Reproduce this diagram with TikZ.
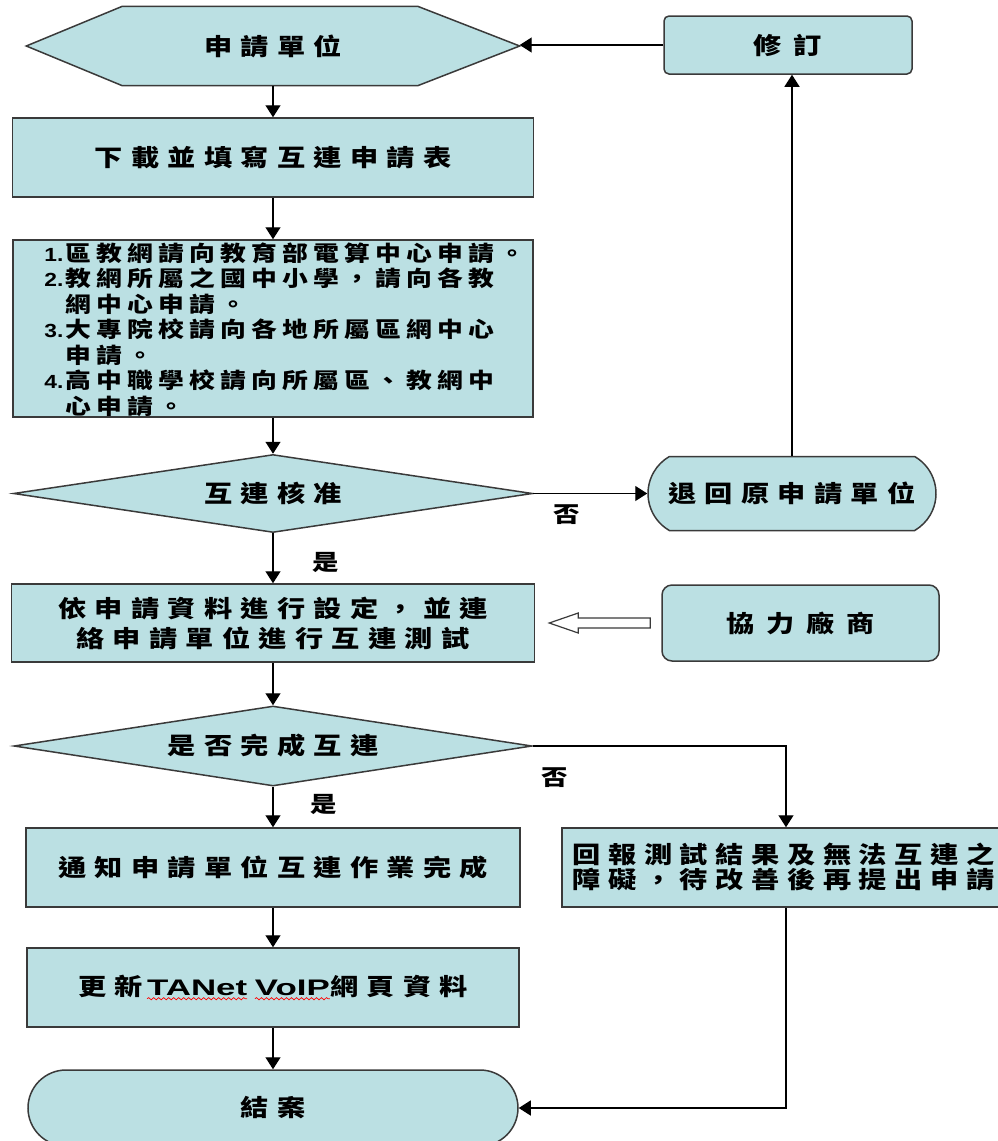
\documentclass[tikz,border=0pt]{standalone}
\usepackage{fontspec}
\usetikzlibrary{shapes.geometric,shapes.misc,arrows.meta,calc,decorations.pathmorphing}
\newfontfamily\cjk{Noto Sans CJK TC}[FakeStretch=1.2]
\newfontfamily\latin{Liberation Sans}[FakeStretch=1.2]
\newfontfamily\latinwide{Liberation Sans}[FakeStretch=1.55]
\XeTeXinterchartokenstate=1
\newlength\cjkgap \setlength\cjkgap{8.3pt}
\newcount\cjkcc
\cjkcc="4E00
\loop\XeTeXcharclass\cjkcc=1 \advance\cjkcc by 1 \ifnum\cjkcc<"A000 \repeat
\XeTeXcharclass"FF0C=1 \XeTeXcharclass"3002=1 \XeTeXcharclass"3001=1
\XeTeXinterchartoks 1 1 = {\hskip\cjkgap\relax}
\newcommand\redwave[1]{\tikz[baseline=(wv.base), x=1pt, y=1pt]{\node[inner sep=0pt, outer sep=0pt, minimum width=0pt,
  minimum height=0pt, draw=none, fill=none, anchor=base,
  font=\latinwide\bfseries\fontsize{22.5}{25}\selectfont] (wv) {#1};
  \draw[red, line width=0.7pt, decorate, decoration={snake, amplitude=1.1pt, segment length=5pt}]
    ([yshift=-3.5pt]wv.base west) -- ([yshift=-3.5pt]wv.base east);}}
\definecolor{boxfill}{HTML}{BBE0E3}
\definecolor{boxline}{HTML}{3A3A3A}
\pgfdeclarelayer{bg}
\pgfsetlayers{bg,main}
\tikzset{
  shp/.style={draw=boxline, fill=boxfill, line width=1.5pt, inner sep=0pt},
  rect/.style={shp, rectangle},
  txt/.style={font=\cjk\bfseries\fontsize{23.5}{25}\selectfont, align=center},
  cjkspace/.code={\setlength\cjkgap{#1}},
  conn/.style={line width=1.3pt, -{Triangle[length=12pt,width=15pt]}},
  lbl/.style={font=\cjk\bfseries\fontsize{22}{24}\selectfont, inner sep=0pt},
}
\begin{document}
\begin{tikzpicture}[x=1pt,y=-1pt]
\useasboundingbox (0,0) rectangle (998,1141);
\clip (0,0) rectangle (998,1141);

% hexagon start
\node[txt, minimum width=493pt, minimum height=79pt, inner sep=0pt] (apply) at (273,46) {申請單位};
\begin{pgfonlayer}{bg}
\draw[shp] (apply.west) -- ([xshift=96pt]apply.north west) -- ([xshift=-102pt]apply.north east)
  -- (apply.east) -- ([xshift=-102pt]apply.south east) -- ([xshift=96pt]apply.south west) -- cycle;
\end{pgfonlayer}

\node[rect, txt, minimum width=521pt, minimum height=79pt] (form) at (273,157.5) {下載並填寫互連申請表};

\node[rect, minimum width=520pt, minimum height=177pt] (list) at (273,328.5) {};
\node[anchor=west, align=left, inner sep=0pt, cjkspace=5.2pt,
      font=\cjk\bfseries\fontsize{21.5}{25.5}\selectfont] (listtxt) at ([xshift=32pt,yshift=-1pt]list.west)
{\makebox[21pt][l]{\latin\bfseries\fontsize{19}{25}\selectfont 1.}區教網請向教育部電算中心申請。\\
 \makebox[21pt][l]{\latin\bfseries\fontsize{19}{25}\selectfont 2.}教網所屬之國中小學，請向各教\\
 \makebox[21pt][l]{}網中心申請。\\
 \makebox[21pt][l]{\latin\bfseries\fontsize{19}{25}\selectfont 3.}大專院校請向各地所屬區網中心\\
 \makebox[21pt][l]{}申請。\\
 \makebox[21pt][l]{\latin\bfseries\fontsize{19}{25}\selectfont 4.}高中職學校請向所屬區、教網中\\
 \makebox[21pt][l]{}心申請。};

\node[shp, diamond, aspect=6.6, txt, minimum width=519pt, minimum height=78pt] (check1) at (273,493.5) {互連核准};

\node[shp, rounded rectangle, rounded rectangle arc length=120, txt,
      minimum width=288pt, minimum height=74pt] (reject) at (792,493.5) {退回原申請單位};

\node[rect, rounded corners=5pt, txt, cjkspace=11.8pt, minimum width=248pt, minimum height=58pt] (revise) at (788,45) {修訂};

\node[rect, txt, font=\cjk\bfseries\fontsize{23.5}{30}\selectfont,
      minimum width=523pt, minimum height=78pt] (config) at (273,623) {依申請資料進行設定，並連\\絡申請單位進行互連測試};

\node[rect, rounded corners=10pt, txt, cjkspace=11.8pt, minimum width=277pt, minimum height=76pt] (vendor) at (800.5,623) {協力廠商};

\node[shp, diamond, aspect=6.5, txt, minimum width=518pt, minimum height=80pt] (check2) at (273,746) {是否完成互連};

\node[rect, txt, minimum width=494pt, minimum height=79pt] (notify) at (273,867.5) {通知申請單位互連作業完成};

\node[rect, minimum width=448pt, minimum height=79pt] (report) at (786,867.5) {};
\node[txt, anchor=west, inner sep=0pt, cjkspace=7.6pt] (reporttxt) at ([xshift=11pt,yshift=1pt]report.west)
  {回報測試結果及無法互連之\\障礙，待改善後再提出申請};

\node[rect, txt, minimum width=492pt, minimum height=79pt] (update) at (273,987.5)
  {更新\hspace{4pt}\redwave{TANet}\hspace{7pt}\redwave{VoIP}網頁資料};

\node[shp, rounded rectangle, txt, minimum width=490pt, minimum height=76pt] (close) at (273,1108) {結案};

% connectors
\draw[conn] (apply.south) -- (apply.south |- form.north);
\draw[conn] (form.south) -- (form.south |- list.north);
\draw[conn] (list.south) -- (list.south |- check1.north);
\draw[conn] (check1.south) -- (check1.south |- config.north);
\node[lbl] (yes1) at (326,562) {是};
\draw[conn] (check1.east) -- (check1.east -| reject.west);
\node[lbl] (no1) at (567,515) {否};
\draw[conn] (reject.north) -- (reject.north |- revise.south);
\draw[conn] (revise.west) -- (revise.west -| apply.east);
\draw[conn] (config.south) -- (config.south |- check2.north);
\coordinate (batip) at ([xshift=14pt]config.east);
\coordinate (batail) at ([xshift=-11pt]vendor.west);
\draw[line width=1.2pt, draw=boxline, fill=white] (batip) -- ($(batip)+(29,-10)$) -- ($(batip)+(29,-5)$)
  -- ($(batail)+(0,-5)$) -- ($(batail)+(0,5)$) -- ($(batip)+(29,5)$) -- ($(batip)+(29,10)$) -- cycle;
\draw[conn] (check2.east) -| (report.north);
\node[lbl] (no2) at (555,778) {否};
\draw[conn] (check2.south) -- (check2.south |- notify.north);
\node[lbl] (yes2) at (324,804) {是};
\draw[conn] (notify.south) -- (notify.south |- update.north);
\draw[conn] (update.south) -- (update.south |- close.north);
\draw[conn] (report.south) |- (close.east);
\end{tikzpicture}
\end{document}
